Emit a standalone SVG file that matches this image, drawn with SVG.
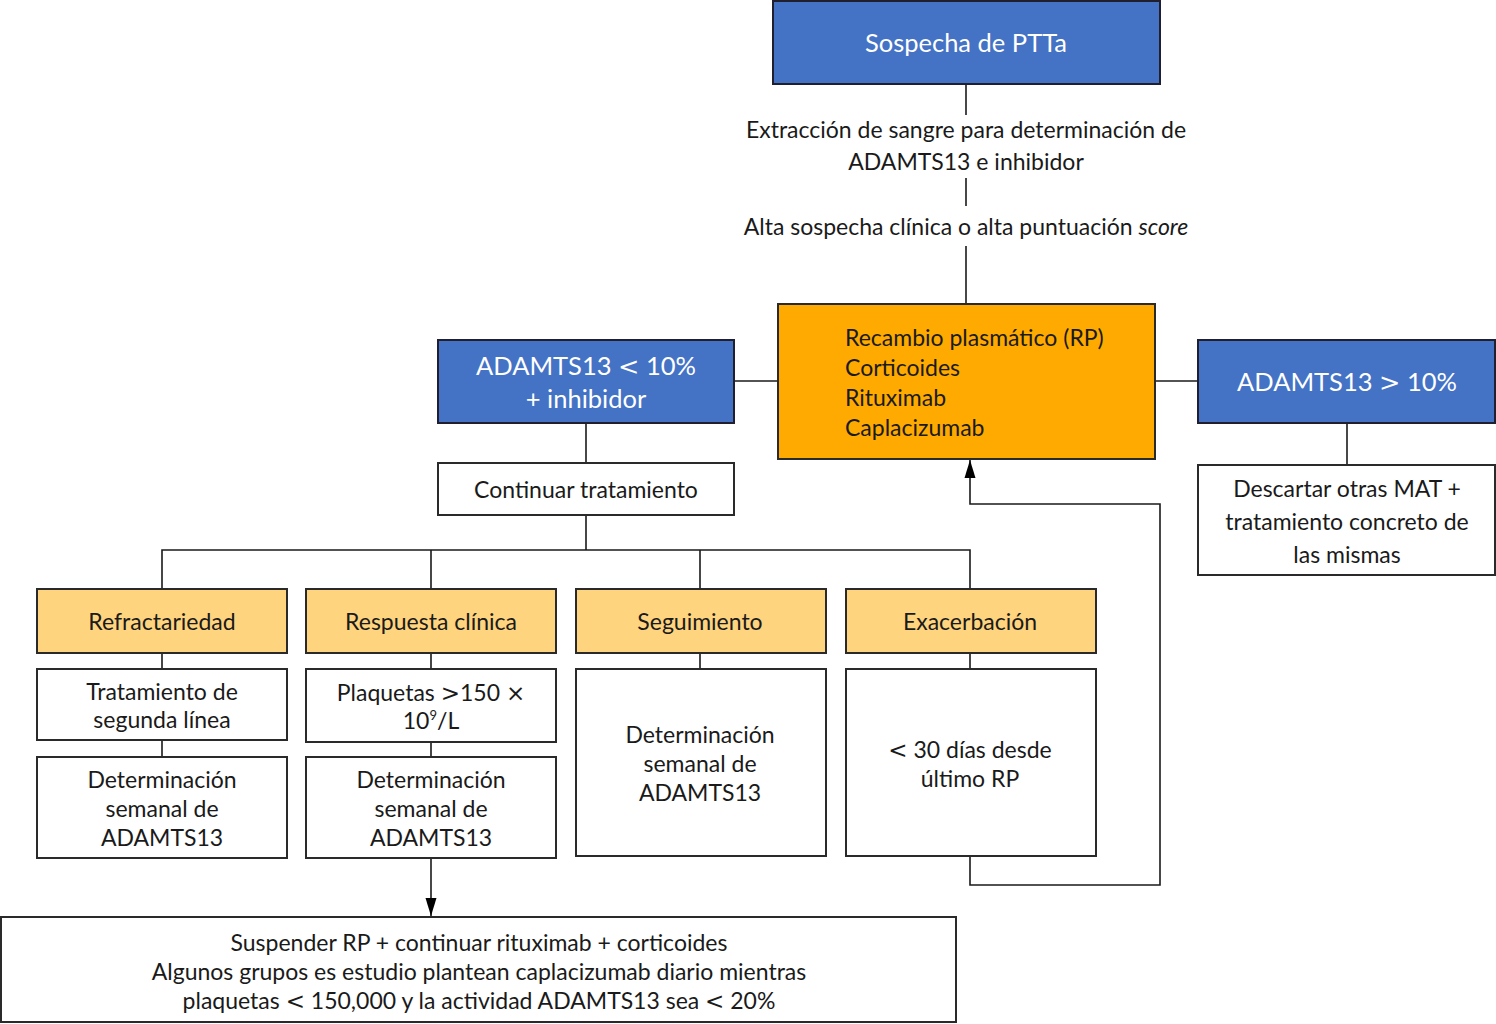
<svg xmlns="http://www.w3.org/2000/svg" width="1496" height="1024" viewBox="0 0 1496 1024">
<defs>
<style>
text{font-family:Lato,"Open Sans","Liberation Sans",sans-serif;font-size:23px;fill:#1a1a1a;text-anchor:middle}
.w{fill:#fff;font-size:25.5px}
.l{text-anchor:start}
.s{font-family:"DejaVu Sans","Liberation Sans",sans-serif}
.blue{fill:#4472C4;stroke:#1f1f2f;stroke-width:2}
.org{fill:#FFAA00;stroke:#2a2a2a;stroke-width:2}
.lt{fill:#FFD47F;stroke:#2a2a2a;stroke-width:2}
.wb{fill:#fff;stroke:#2a2a2a;stroke-width:2}
.c{fill:none;stroke:#1a1a1a;stroke-width:1.6}
</style>
<marker id="ah2" viewBox="0 0 18 12" refX="18" refY="6" markerWidth="18" markerHeight="12" orient="auto" markerUnits="userSpaceOnUse"><path d="M0,0.5 L18,6 L0,11.5 Z" fill="#000"/></marker>
</defs>
<rect width="1496" height="1024" fill="#fff"/>
<g id="connectors">
<path class="c" d="M966,84 V115"/>
<path class="c" d="M966,178 V206"/>
<path class="c" d="M966,246 V304"/>
<path class="c" d="M734,381 H778"/>
<path class="c" d="M1155,381 H1198"/>
<path class="c" d="M1347,423 V465"/>
<path class="c" d="M586,423 V463"/>
<path class="c" d="M586,515 V550 M162,589 V550 H970 V589 M431,550 V589 M700,550 V589"/>
<path class="c" d="M162,653 V669 M431,653 V669 M700,653 V669 M970,653 V669"/>
<path class="c" d="M162,740 V757 M431,742 V757"/>
<path class="c" d="M431,858 V916" marker-end="url(#ah2)"/>
<path class="c" d="M970,856 V885 H1160 V504 H970 V460" marker-end="url(#ah2)"/>
</g>
<g id="n-sospecha"><rect class="blue" x="773" y="1" width="387" height="83"/><text class="w" x="966" y="52">Sospecha de PTTa</text></g>
<g id="l-extraccion"><text x="966" y="138">Extracción de sangre para determinación de</text><text x="966" y="170">ADAMTS13 e inhibidor</text></g>
<g id="l-alta"><text x="966" y="235">Alta sospecha clínica o alta puntuación <tspan font-style="italic">score</tspan></text></g>
<g id="n-recambio"><rect class="org" x="778" y="304" width="377" height="155"/>
<text class="l" x="845" y="346">Recambio plasmático (RP)</text>
<text class="l" x="845" y="376">Corticoides</text>
<text class="l" x="845" y="406">Rituximab</text>
<text class="l" x="845" y="436">Caplacizumab</text></g>
<g id="n-menor"><rect class="blue" x="438" y="340" width="296" height="83"/><text class="w" x="586" y="375">ADAMTS13 <tspan class="s">&lt;</tspan> 10%</text><text class="w" x="586" y="408">+ inhibidor</text></g>
<g id="n-mayor"><rect class="blue" x="1198" y="340" width="297" height="83"/><text class="w" x="1347" y="391">ADAMTS13 <tspan class="s">&gt;</tspan> 10%</text></g>
<g id="n-descartar"><rect class="wb" x="1198" y="465" width="297" height="110"/><text x="1347" y="497">Descartar otras MAT +</text><text x="1347" y="530">tratamiento concreto de</text><text x="1347" y="563">las mismas</text></g>
<g id="n-continuar"><rect class="wb" x="438" y="463" width="296" height="52"/><text x="586" y="498">Continuar tratamiento</text></g>
<g id="n-refr"><rect class="lt" x="37" y="589" width="250" height="64"/><text x="162" y="630">Refractariedad</text></g>
<g id="n-resp"><rect class="lt" x="306" y="589" width="250" height="64"/><text x="431" y="630">Respuesta clínica</text></g>
<g id="n-seg"><rect class="lt" x="576" y="589" width="250" height="64"/><text x="700" y="630">Seguimiento</text></g>
<g id="n-exac"><rect class="lt" x="846" y="589" width="250" height="64"/><text x="970" y="630">Exacerbación</text></g>
<g id="n-trat2"><rect class="wb" x="37" y="669" width="250" height="71"/><text x="162" y="700">Tratamiento de</text><text x="162" y="728">segunda línea</text></g>
<g id="n-det1"><rect class="wb" x="37" y="757" width="250" height="101"/><text x="162" y="788">Determinación</text><text x="162" y="817">semanal de</text><text x="162" y="846">ADAMTS13</text></g>
<g id="n-plaq"><rect class="wb" x="306" y="669" width="250" height="73"/><text x="431" y="701">Plaquetas <tspan class="s">&gt;</tspan>150 <tspan class="s">×</tspan></text><text x="431" y="729">10<tspan font-size="13" dy="-9">9</tspan><tspan dy="9">/L</tspan></text></g>
<g id="n-det2"><rect class="wb" x="306" y="757" width="250" height="101"/><text x="431" y="788">Determinación</text><text x="431" y="817">semanal de</text><text x="431" y="846">ADAMTS13</text></g>
<g id="n-det3"><rect class="wb" x="576" y="669" width="250" height="187"/><text x="700" y="743">Determinación</text><text x="700" y="772">semanal de</text><text x="700" y="801">ADAMTS13</text></g>
<g id="n-dias"><rect class="wb" x="846" y="669" width="250" height="187"/><text x="970" y="758"><tspan class="s">&lt;</tspan> 30 días desde</text><text x="970" y="787">último RP</text></g>
<g id="n-suspender"><rect class="wb" x="1" y="917" width="955" height="105"/><text x="479" y="951">Suspender RP + continuar rituximab + corticoides</text><text x="479" y="980">Algunos grupos es estudio plantean caplacizumab diario mientras</text><text x="479" y="1009">plaquetas <tspan class="s">&lt;</tspan> 150,000 y la actividad ADAMTS13 sea <tspan class="s">&lt;</tspan> 20%</text></g>
</svg>
